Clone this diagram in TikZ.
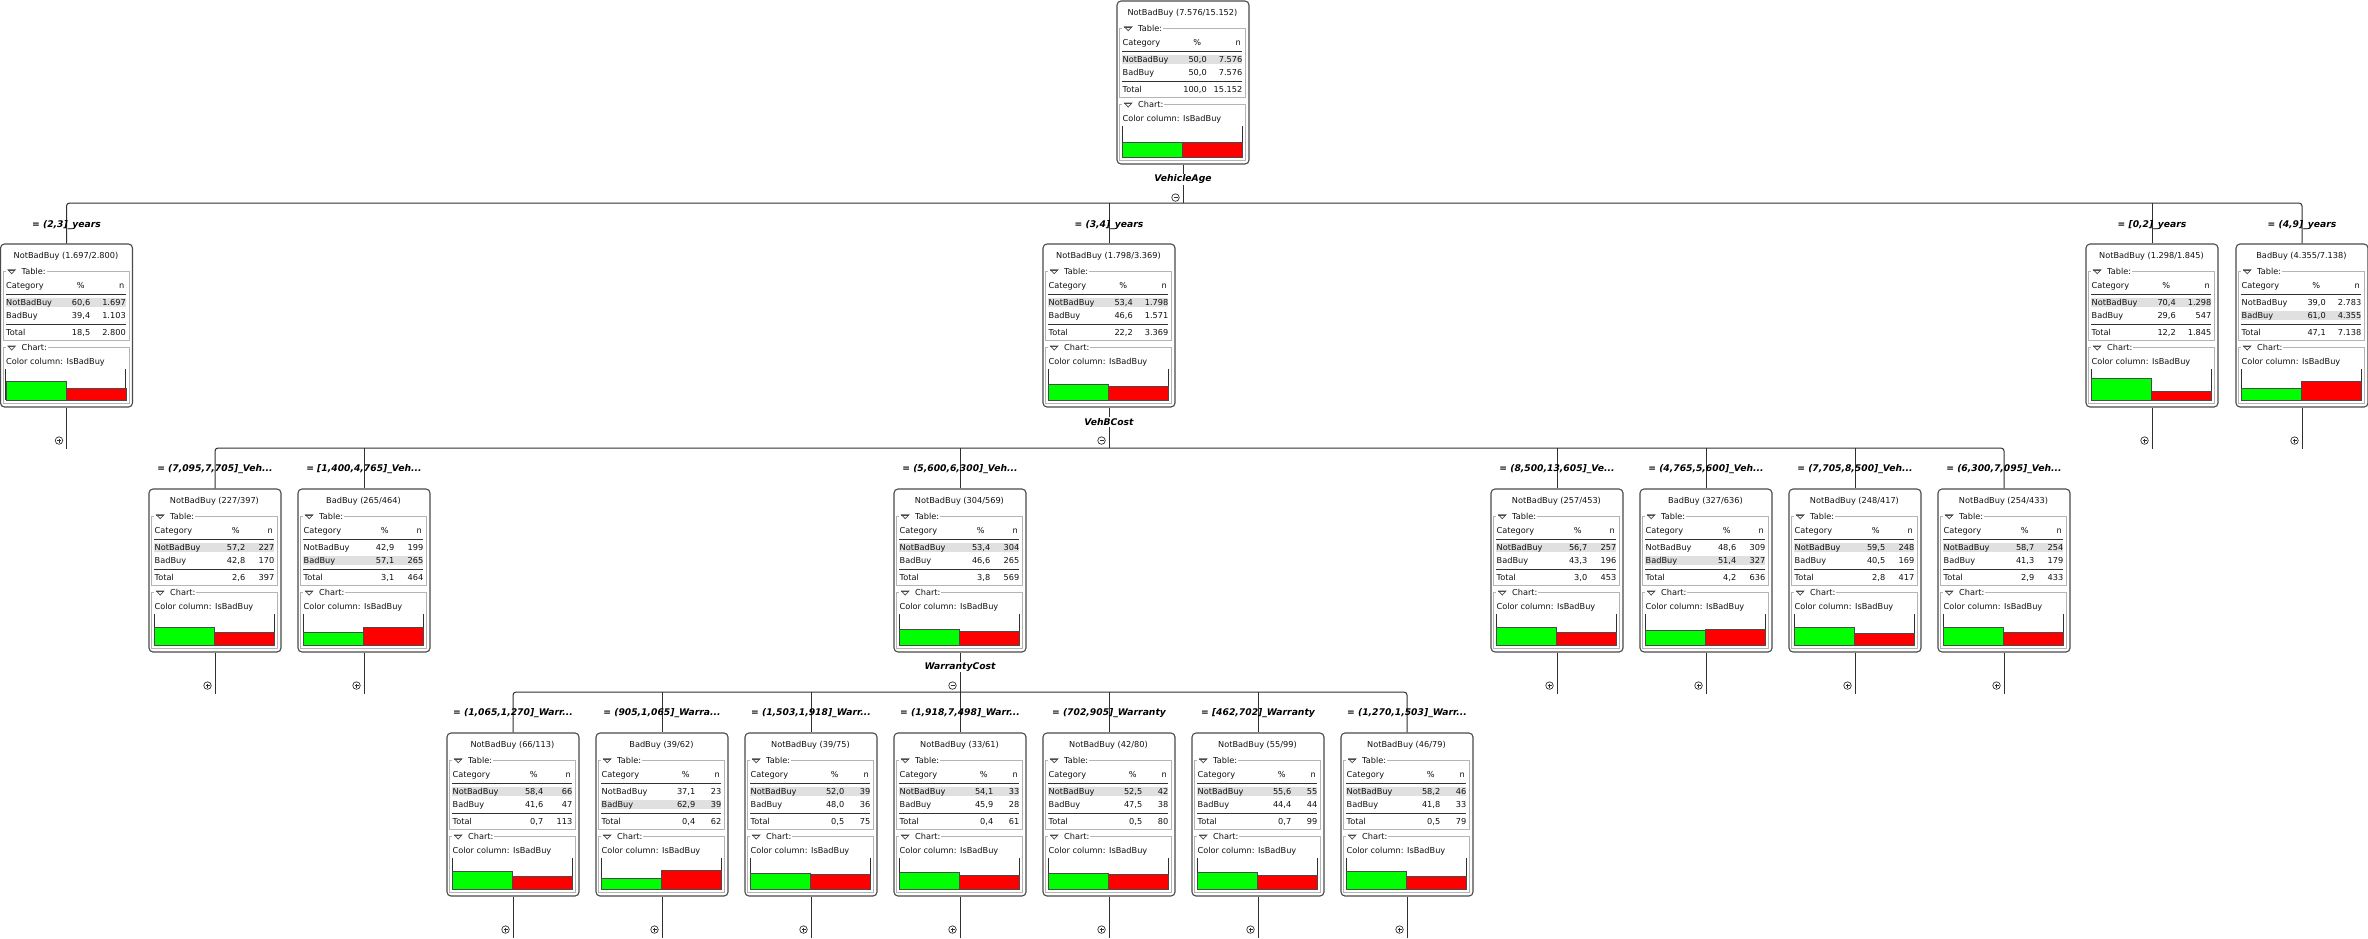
\documentclass[tikz,border=0pt]{standalone}
\usepackage{fontspec}
\setmainfont{DejaVu Sans}
\usetikzlibrary{calc}
\definecolor{frm}{HTML}{B4B4B4}
\definecolor{bdr}{HTML}{4A4A4A}
\definecolor{hlc}{HTML}{E0E0E0}
\definecolor{gbar}{HTML}{00FF00}
\definecolor{rbar}{HTML}{FF0000}
\definecolor{ln}{HTML}{303030}
\definecolor{txt}{HTML}{101010}
\tikzset{
 treebox/.style={draw=bdr, line width=1.1pt, rounded corners=4pt, minimum width=132pt, minimum height=163pt, inner sep=0pt, fill=white},
 ttxt/.style={font=\fontsize{8.2}{9}\selectfont, text=txt, inner sep=0pt},
 elabel/.style={font=\fontsize{9.2}{10}\selectfont\bfseries\itshape, text=black, inner sep=0.5pt},
 alabel/.style={elabel, fill=white, inner sep=1pt},
 conn/.style={draw=ln, line width=1pt},
 tog/.style={circle, draw=ln, fill=white, line width=0.7pt, minimum size=7.5pt, inner sep=0pt},
 frameline/.style={draw=frm, line width=0.8pt},
 ruleline/.style={draw=ln, line width=1pt},
 barline/.style={draw=bdr, line width=0.8pt},
 sign/.style={draw=ln, line width=0.7pt},
}
% name, cx, top, title, highlighted row
\newcommand\tnbox[5]{%
 \node[treebox] (#1) at (#2,#3+81.5) {};
 \begin{scope}[shift={(#1.north west)}]
  \node[ttxt,anchor=base] at (66,15.3) {#4};
  \draw[frameline] (3,28) rectangle (129,97.3);
  \draw[frameline] (3,104.3) rectangle (129,159.7);
  \fill[white] (6,25) rectangle (21,31);
  \draw[bdr,line width=0.7pt,fill=white] (8,26.2) -- (15.5,26.2) -- (11.75,30.3) -- cycle;
  \draw[bdr,line width=0.7pt] (8,27) -- (15.5,27);
  \node[ttxt,anchor=base west,fill=white,inner xsep=1pt] at (20.5,30.8) {Table:};
  \fill[white] (6,101.3) rectangle (21,107.3);
  \draw[bdr,line width=0.7pt,fill=white] (8,102.5) -- (15.5,102.5) -- (11.75,106.6) -- cycle;
  \draw[bdr,line width=0.7pt] (8,103.3) -- (15.5,103.3);
  \node[ttxt,anchor=base west,fill=white,inner xsep=1pt] at (20.5,107.1) {Chart:};
  \ifnum#5=1 \fill[hlc] (6,55) rectangle (126,63.5);\else \fill[hlc] (6,67.8) rectangle (126,76.3);\fi
  \node[ttxt,anchor=base west] at (6,45.3) {Category};
  \draw[ruleline] (6,51.5) -- (126,51.5);
  \node[ttxt,anchor=base west] at (6,62) {NotBadBuy};
  \node[ttxt,anchor=base west] at (6,74.8) {BadBuy};
  \draw[ruleline] (6,81) -- (126,81);
  \node[ttxt,anchor=base west] at (6,92) {Total};
  \node[ttxt,anchor=base west] at (6,121.1) {Color column: IsBadBuy};
  \draw[ruleline] (6,125.7) -- (6,157);
  \draw[ruleline] (126,125.7) -- (126,157);
 \end{scope}}
% name, pct column right edge, p1, n1, p2, n2, ptot, ntot, green pct
\newcommand\tndata[9]{%
 \begin{scope}[shift={(#1.north west)}]
  \node[ttxt,anchor=base east] at (#2-5.5,45.3) {\%};
  \node[ttxt,anchor=base east] at (124.5,45.3) {n};
  \node[ttxt,anchor=base east] at (#2,62) {#3};
  \node[ttxt,anchor=base east] at (126,62) {#4};
  \node[ttxt,anchor=base east] at (#2,74.8) {#5};
  \node[ttxt,anchor=base east] at (126,74.8) {#6};
  \node[ttxt,anchor=base east] at (#2,92) {#7};
  \node[ttxt,anchor=base east] at (126,92) {#8};
  \draw[barline,fill=gbar] (6,157) rectangle (66,{157-0.31*#9});
  \draw[barline,fill=rbar] (66,157) rectangle (126,{157-0.31*(100-#9)});
 \end{scope}}
% name, attribute, bar coordinate
\newcommand\tninner[3]{%
 \draw[conn] (#1.south) -- (#1.south |- #3);
 \node[alabel] (#1l) at ([yshift=-14.5pt]#1.south) {#2};
 \node[tog] (#1m) at ([xshift=-7.5pt,yshift=-33pt]#1.south) {};
 \draw[sign] ([xshift=-2pt]#1m.center) -- ([xshift=2pt]#1m.center);}
\newcommand\tnleaf[1]{%
 \draw[conn] (#1.south) -- ([yshift=-41pt]#1.south);
 \node[tog] (#1p) at ([xshift=-7.5pt,yshift=-33pt]#1.south) {};
 \draw[sign] ([xshift=-2pt]#1p.center) -- ([xshift=2pt]#1p.center);
 \draw[sign] ([yshift=-2pt]#1p.center) -- ([yshift=2pt]#1p.center);}
\begin{document}
\begin{tikzpicture}[x=1pt,y=-1pt]
\useasboundingbox (0,0) rectangle (2368,938);
\fill[white] (0,0) rectangle (2368,938);
\coordinate (y1) at (0,203);
\coordinate (y2) at (0,448);
\coordinate (y3) at (0,692);
\coordinate (l1) at (0,225);
\coordinate (l2) at (0,469);
\coordinate (l3) at (0,713);
% level 1
\tnbox{r}{1183}{1}{NotBadBuy (7.576/15.152)}{1}
\tndata{r}{90.5}{50,0}{7.576}{50,0}{7.576}{100,0}{15.152}{50}
% level 2
\tnbox{a}{66.5}{244}{NotBadBuy (1.697/2.800)}{1}
\tndata{a}{90.5}{60,6}{1.697}{39,4}{1.103}{18,5}{2.800}{60.6}
\tnbox{b}{1109}{244}{NotBadBuy (1.798/3.369)}{1}
\tndata{b}{90.5}{53,4}{1.798}{46,6}{1.571}{22,2}{3.369}{53.4}
\tnbox{c}{2152}{244}{NotBadBuy (1.298/1.845)}{1}
\tndata{c}{90.5}{70,4}{1.298}{29,6}{547}{12,2}{1.845}{70.4}
\tnbox{d}{2302}{244}{BadBuy (4.355/7.138)}{2}
\tndata{d}{90.5}{39,0}{2.783}{61,0}{4.355}{47,1}{7.138}{39.0}
% level 3
\tnbox{e1}{215}{489}{NotBadBuy (227/397)}{1}
\tndata{e1}{97}{57,2}{227}{42,8}{170}{2,6}{397}{57.2}
\tnbox{e2}{364}{489}{BadBuy (265/464)}{2}
\tndata{e2}{97}{42,9}{199}{57,1}{265}{3,1}{464}{42.9}
\tnbox{e3}{960}{489}{NotBadBuy (304/569)}{1}
\tndata{e3}{97}{53,4}{304}{46,6}{265}{3,8}{569}{53.4}
\tnbox{e4}{1557}{489}{NotBadBuy (257/453)}{1}
\tndata{e4}{97}{56,7}{257}{43,3}{196}{3,0}{453}{56.7}
\tnbox{e5}{1706}{489}{BadBuy (327/636)}{2}
\tndata{e5}{97}{48,6}{309}{51,4}{327}{4,2}{636}{48.6}
\tnbox{e6}{1855}{489}{NotBadBuy (248/417)}{1}
\tndata{e6}{97}{59,5}{248}{40,5}{169}{2,8}{417}{59.5}
\tnbox{e7}{2004}{489}{NotBadBuy (254/433)}{1}
\tndata{e7}{97}{58,7}{254}{41,3}{179}{2,9}{433}{58.7}
% level 4
\tnbox{f1}{513}{733}{NotBadBuy (66/113)}{1}
\tndata{f1}{97}{58,4}{66}{41,6}{47}{0,7}{113}{58.4}
\tnbox{f2}{662}{733}{BadBuy (39/62)}{2}
\tndata{f2}{100}{37,1}{23}{62,9}{39}{0,4}{62}{37.1}
\tnbox{f3}{811}{733}{NotBadBuy (39/75)}{1}
\tndata{f3}{100}{52,0}{39}{48,0}{36}{0,5}{75}{52.0}
\tnbox{f4}{960}{733}{NotBadBuy (33/61)}{1}
\tndata{f4}{100}{54,1}{33}{45,9}{28}{0,4}{61}{54.1}
\tnbox{f5}{1109}{733}{NotBadBuy (42/80)}{1}
\tndata{f5}{100}{52,5}{42}{47,5}{38}{0,5}{80}{52.5}
\tnbox{f6}{1258}{733}{NotBadBuy (55/99)}{1}
\tndata{f6}{100}{55,6}{55}{44,4}{44}{0,7}{99}{55.6}
\tnbox{f7}{1407}{733}{NotBadBuy (46/79)}{1}
\tndata{f7}{100}{58,2}{46}{41,8}{33}{0,5}{79}{58.2}
% connectors level 1 -> 2
\draw[conn,rounded corners=3pt] (a.north) -- (a.north |- y1) -- (d.north |- y1) -- (d.north);
\draw[conn] (b.north) -- (b.north |- y1);
\draw[conn] (c.north) -- (c.north |- y1);
\tninner{r}{VehicleAge}{y1}
% connectors level 2 -> 3
\draw[conn,rounded corners=3pt] (e1.north) -- (e1.north |- y2) -- (e7.north |- y2) -- (e7.north);
\foreach \n in {e2,e3,e4,e5,e6} \draw[conn] (\n.north) -- (\n.north |- y2);
\tninner{b}{VehBCost}{y2}
% connectors level 3 -> 4
\draw[conn,rounded corners=3pt] (f1.north) -- (f1.north |- y3) -- (f7.north |- y3) -- (f7.north);
\foreach \n in {f2,f3,f4,f5,f6} \draw[conn] (\n.north) -- (\n.north |- y3);
\tninner{e3}{WarrantyCost}{y3}
% leaves
\foreach \n in {a,c,d,e1,e2,e4,e5,e6,e7,f1,f2,f3,f4,f5,f6,f7} {\tnleaf{\n}}
% edge labels
\node[elabel] at (a.north |- l1) {= (2,3]\_years};
\node[elabel] at (b.north |- l1) {= (3,4]\_years};
\node[elabel] at (c.north |- l1) {= [0,2]\_years};
\node[elabel] at (d.north |- l1) {= (4,9]\_years};
\node[elabel] at (e1.north |- l2) {= (7,095,7,705]\_Veh...};
\node[elabel] at (e2.north |- l2) {= [1,400,4,765]\_Veh...};
\node[elabel] at (e3.north |- l2) {= (5,600,6,300]\_Veh...};
\node[elabel] at (e4.north |- l2) {= (8,500,13,605]\_Ve...};
\node[elabel] at (e5.north |- l2) {= (4,765,5,600]\_Veh...};
\node[elabel] at (e6.north |- l2) {= (7,705,8,500]\_Veh...};
\node[elabel] at (e7.north |- l2) {= (6,300,7,095]\_Veh...};
\node[elabel] at (f1.north |- l3) {= (1,065,1,270]\_Warr...};
\node[elabel] at (f2.north |- l3) {= (905,1,065]\_Warra...};
\node[elabel] at (f3.north |- l3) {= (1,503,1,918]\_Warr...};
\node[elabel] at (f4.north |- l3) {= (1,918,7,498]\_Warr...};
\node[elabel] at (f5.north |- l3) {= (702,905]\_Warranty};
\node[elabel] at (f6.north |- l3) {= [462,702]\_Warranty};
\node[elabel] at (f7.north |- l3) {= (1,270,1,503]\_Warr...};
\end{tikzpicture}
\end{document}
